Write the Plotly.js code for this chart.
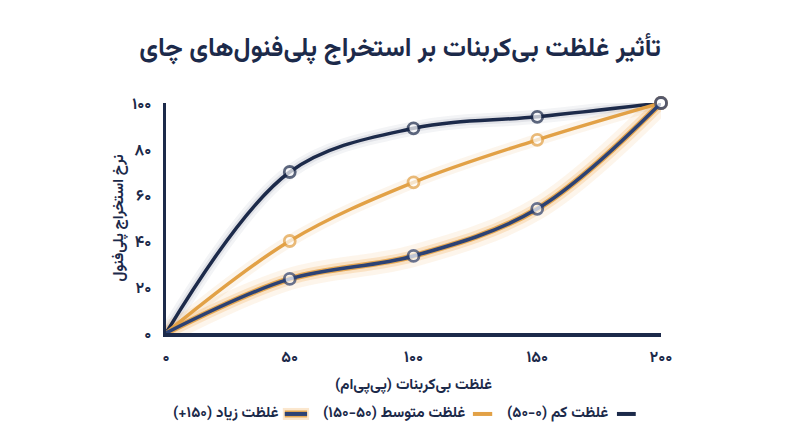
<!DOCTYPE html>
<html><head><meta charset="utf-8">
<script src="https://cdn.plot.ly/plotly-3.0.1.min.js"></script>
<style>html,body{margin:0;padding:0;background:#fff;}#chart{width:800px;height:447px;}</style>
</head><body><div id="chart"></div>
<script>
const concentrations = [0, 50, 100, 150, 200];
const lowValues = [0, 70, 89, 94, 100];
const mediumValues = [0, 40, 65.5, 84, 100];
const highValues = [0, 23.5, 33.5, 54, 100];
const seriesNames = ['غلظت کم (۰-۵۰)', 'غلظت متوسط (۵۰-۱۵۰)', 'غلظت زیاد (۱۵۰+)'];
const xTickVals = [0, 50, 100, 150, 200];
const xTickText = ['۰', '۵۰', '۱۰۰', '۱۵۰', '۲۰۰'];
const yTickVals = [0, 20, 40, 60, 80, 100];
const yTickText = ['۰', '۲۰', '۴۰', '۶۰', '۸۰', '۱۰۰'];

const NAVY = '#1c2a4a';
const ORANGE = '#e2a146';
const BLUE = '#2c4274';
const FONT = 'Vazirmatn, "DejaVu Sans", "Noto Sans", sans-serif';

const markerSizes = concentrations.map((c, i) => i === 0 ? 0 : 11);

function glow(y, color, width) {
  return {x: concentrations, y: y, type: 'scatter', mode: 'lines', showlegend: false, hoverinfo: 'skip',
    line: {shape: 'spline', smoothing: 1, color: color, width: width}, cliponaxis: false};
}
function series(y, name, color) {
  return {x: concentrations, y: y, name: name, type: 'scatter', mode: 'lines+markers', showlegend: false,
    line: {shape: 'spline', smoothing: 1, color: color, width: 3.5},
    marker: {symbol: 'circle', size: markerSizes, color: '#ffffff', line: {color: color, width: 2.8}},
    cliponaxis: false};
}

const traces = [
  glow(lowValues, 'rgba(28,42,74,0.05)', 14),
  glow(lowValues, 'rgba(28,42,74,0.08)', 8),
  glow(mediumValues, 'rgba(226,161,70,0.10)', 12),
  glow(highValues, 'rgba(240,160,60,0.10)', 22),
  glow(highValues, 'rgba(240,160,60,0.22)', 12),
  glow(highValues, 'rgba(226,161,70,0.9)', 6),
  series(lowValues, seriesNames[0], NAVY),
  series(mediumValues, seriesNames[1], ORANGE),
  series(highValues, seriesNames[2], BLUE)
];

const legendY = -0.352;
const legendItems = [
  {text: seriesNames[0], tx: 0.897, s0: 0.911, s1: 0.949, color: NAVY, glow: false},
  {text: seriesNames[1], tx: 0.608, s0: 0.620, s1: 0.659, color: ORANGE, glow: false},
  {text: seriesNames[2], tx: 0.232, s0: 0.240, s1: 0.285, color: BLUE, glow: true}
];
const annotations = legendItems.map(it => ({
  xref: 'paper', yref: 'paper', x: it.tx, y: legendY, xanchor: 'right', yanchor: 'middle',
  text: '<b>' + it.text + '</b>', showarrow: false, font: {family: FONT, size: 15, color: NAVY}
}));
const shapes = [];
legendItems.forEach(it => {
  if (it.glow) {
    shapes.push({type: 'line', xref: 'paper', yref: 'paper', x0: it.s0 - 0.004, x1: it.s1 + 0.004, y0: legendY, y1: legendY,
      line: {color: 'rgba(240,160,60,0.25)', width: 12}});
    shapes.push({type: 'line', xref: 'paper', yref: 'paper', x0: it.s0, x1: it.s1, y0: legendY, y1: legendY,
      line: {color: 'rgba(226,161,70,0.9)', width: 7}});
  }
  shapes.push({type: 'line', xref: 'paper', yref: 'paper', x0: it.s0, x1: it.s1, y0: legendY, y1: legendY,
    line: {color: it.color, width: 4}});
});

const bold = arr => arr.map(t => '<b>' + t + '</b>');

const layout = {
  width: 800, height: 447,
  margin: {l: 166, r: 139, t: 103, b: 114},
  paper_bgcolor: '#ffffff', plot_bgcolor: '#ffffff',
  font: {family: FONT, color: NAVY},
  title: {text: '<b>تأثیر غلظت بی‌کربنات بر استخراج پلی‌فنول‌های چای</b>', x: 0.5, xanchor: 'center',
    y: 0.895, yanchor: 'middle', font: {family: FONT, size: 26, color: NAVY}},
  xaxis: {range: [0, 200], tickvals: xTickVals, ticktext: bold(xTickText), showgrid: false, zeroline: false,
    showline: true, linecolor: NAVY, linewidth: 3.5, ticks: '', ticklabelstandoff: 6,
    tickfont: {family: FONT, size: 16, color: NAVY},
    title: {text: '<b>غلظت بی‌کربنات (پی‌پی‌ام)</b>', standoff: 10, font: {family: FONT, size: 15, color: NAVY}}},
  yaxis: {range: [0, 100], tickvals: yTickVals, ticktext: bold(yTickText), showgrid: false, zeroline: false,
    showline: true, linecolor: NAVY, linewidth: 3.5, ticks: '', ticklabelstandoff: 8,
    tickfont: {family: FONT, size: 16, color: NAVY},
    title: {text: '<b>نرخ استخراج پلی‌فنول</b>', standoff: 6, font: {family: FONT, size: 15, color: NAVY}}},
  showlegend: false,
  annotations: annotations,
  shapes: shapes
};

Plotly.newPlot('chart', traces, layout, {displayModeBar: false, staticPlot: true});
</script></body></html>
